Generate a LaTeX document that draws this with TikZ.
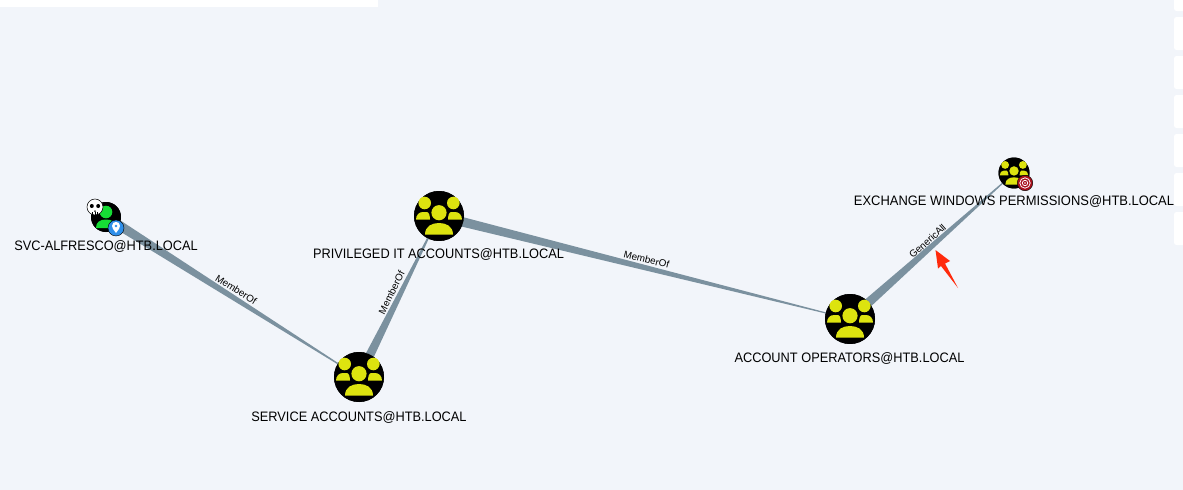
\documentclass[tikz,border=0pt]{standalone}
\usepackage{fontspec}
\setmainfont{Liberation Sans}
\usepackage{xcolor}
\usetikzlibrary{calc}
\definecolor{canvas}{HTML}{F2F5FA}
\definecolor{edgegrey}{HTML}{7B919F}
\definecolor{grouplime}{HTML}{DDE30F}
\definecolor{userlime}{HTML}{16DD35}
\definecolor{pinblue}{HTML}{2F8FEA}
\definecolor{targetred}{HTML}{A80F1B}
\definecolor{arrowred}{HTML}{FF2A0C}
\tikzset{
	dot/.style={circle, fill=black, inner sep=0pt, outer sep=0pt},
	nodetext/.style={font=\fontsize{7.8}{9.5}\selectfont, text=black, inner sep=0pt, xscale=0.933},
	edgetext/.style={font=\fontsize{5.6}{6.5}\selectfont, text=black, inner sep=1pt},
	panel/.style={fill=white, rounded corners=0.05cm},
	groupicon/.pic={
		\fill[grouplime] (-14.3,-13) circle (6.3);
		\fill[grouplime] (14.3,-13) circle (6.3);
		\fill[grouplime] (-23,3.7) .. controls (-23,-1) and (-20,-4) .. (-16,-4) -- (-12,-4) .. controls (-10,-4) and (-9,0) .. (-9,3.7) -- cycle;
		\fill[grouplime] (23,3.7) .. controls (23,-1) and (20,-4) .. (16,-4) -- (12,-4) .. controls (10,-4) and (9,0) .. (9,3.7) -- cycle;
		\fill[grouplime] (0,-3.3) circle (7.6);
		\fill[grouplime] (-14,18.7) .. controls (-14,10) and (-7,7) .. (0,7) .. controls (7,7) and (14,10) .. (14,18.7) -- cycle;
	}
}
\begin{document}
\begin{tikzpicture}[x=0.02cm, y=-0.02cm]
	\useasboundingbox (0,0) rectangle (1183,490);
	\fill[canvas] (0,0) rectangle (1183,490);
	% side panels
	\fill[white] (0,0) rectangle (378,7);
	\foreach \top/\bottom in {-20/11, 17/50, 56/89, 95/128, 134/167, 173/206, 212/245} {
		\fill[panel] (1174,\top) rectangle (1200,\bottom);
	}
	\path (106,217) node[dot, minimum size=0.6cm] (svc) {};
	\path (359,377) node[dot, minimum size=1cm] (service) {};
	\path (439,216) node[dot, minimum size=1cm] (priv) {};
	\path (850,319) node[dot, minimum size=1cm] (account) {};
	\path (1014,173) node[dot, minimum size=0.62cm] (exchange) {};
	% tapered edges
	\foreach \s/\t in {svc/service, service/priv, priv/account, account/exchange} {
		\fill[edgegrey] ($(\s)!0.1cm!90:(\t)$) -- ($(\s)!0.1cm!-90:(\t)$)
			-- ($(\t)!0.006cm!90:(\s)$) -- ($(\t)!0.006cm!-90:(\s)$) -- cycle;
	}
	% redraw the discs over the edges
	\foreach \n/\d in {svc/0.6, service/1, priv/1, account/1, exchange/0.62} {
		\fill[black] (\n) circle (\d*0.5cm);
	}
	\foreach \n in {service, priv, account} {
		\pic at (\n) {groupicon};
	}
	\pic[scale=0.62] at (exchange) {groupicon};
	% user glyph
	\begin{scope}
		\clip (svc) circle (0.3cm);
		\fill[userlime] (106,212) circle (6.3);
		\fill[userlime] (96,228) .. controls (96,222) and (100,219.5) .. (106,219.5) .. controls (112,219.5) and (116,222) .. (116,228) -- cycle;
	\end{scope}
	% skull badge
	\node[circle, fill=white, draw=black, line width=0.3pt, minimum size=0.32cm, inner sep=0pt] (skull) at (95,207) {};
	\fill[black] (91.8,206) circle (2);
	\fill[black] (98.2,206) circle (2);
	\fill[black] (95,210) -- (94,211.5) -- (96,211.5) -- cycle;
	\foreach \x in {92.5, 95, 97.5} {
		\draw[black, line width=0.25pt] (\x,212) -- (\x,215);
	}
	% pin badge
	\node[circle, fill=pinblue, draw=black, line width=0.25pt, minimum size=0.32cm, inner sep=0pt] (pin) at (116,228) {};
	\fill[white] (116,233) .. controls (113,229) and (112,227.5) .. (112,226) .. controls (112,223) and (114,222) .. (116,222) .. controls (118,222) and (120,223) .. (120,226) .. controls (120,227.5) and (119,229) .. (116,233) -- cycle;
	\fill[pinblue] (116,226) circle (1.4);
	% target badge
	\node[circle, fill=targetred, draw=black, line width=0.25pt, minimum size=0.31cm, inner sep=0pt] (target) at (1025,183) {};
	\draw[white, line width=0.45pt] (target) circle (5.2);
	\draw[white, line width=0.45pt] (target) circle (2.7);
	\fill[white] (target) circle (0.9);
	% labels
	\node[nodetext] (svctext) at (106,246.5) {SVC-ALFRESCO@HTB.LOCAL};
	\node[nodetext] (servicetext) at (359,417.5) {SERVICE ACCOUNTS@HTB.LOCAL};
	\node[nodetext] (privtext) at (438.5,254.5) {PRIVILEGED IT ACCOUNTS@HTB.LOCAL};
	\node[nodetext] (accounttext) at (849.5,358.5) {ACCOUNT OPERATORS@HTB.LOCAL};
	\node[nodetext, xscale=1.012] (exchangetext) at (1014,201.5) {EXCHANGE WINDOWS PERMISSIONS@HTB.LOCAL};
	\foreach \s/\t/\txt/\p/\o in {svc/service/MemberOf/0.516/1.5pt, service/priv/MemberOf/0.5/1.5pt, priv/account/MemberOf/0.5/1.5pt, account/exchange/GenericAll/0.473/0.5pt} {
		\path (\s) -- (\t) node[edgetext, pos=\p, sloped, above=\o] {\txt};
	}
	% red pointer
	\fill[arrowred] (935.5,250) -- (950,261) -- (945,263.5) -- (958,288) -- (941,266) -- (938,268.5) -- cycle;
\end{tikzpicture}
\end{document}
